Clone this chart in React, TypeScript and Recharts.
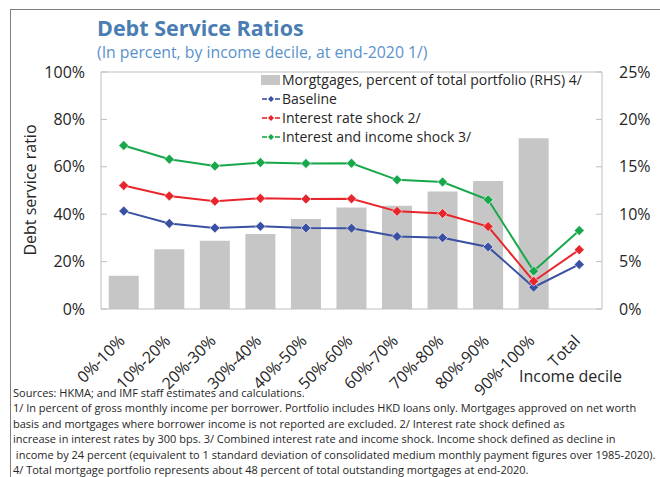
import React from "react";
import {
  Bar,
  ComposedChart,
  Legend,
  Line,
  ReferenceLine,
  XAxis,
  YAxis,
} from "recharts";

const deciles = [
  "0%-10%",
  "10%-20%",
  "20%-30%",
  "30%-40%",
  "40%-50%",
  "50%-60%",
  "60%-70%",
  "70%-80%",
  "80%-90%",
  "90%-100%",
  "Total",
];
const mortgageShare = [3.5, 6.3, 7.2, 7.9, 9.5, 10.7, 10.9, 12.4, 13.5, 18.0, null];
const baseline = [41.3, 36.1, 34.2, 34.9, 34.2, 34.1, 30.6, 30.1, 26.2, 9.2, 18.8];
const rateShock = [52.1, 47.7, 45.5, 46.7, 46.4, 46.5, 41.2, 40.3, 34.8, 11.7, 25.0];
const incomeShock = [69.0, 63.2, 60.3, 61.8, 61.4, 61.5, 54.5, 53.6, 46.1, 16.0, 33.1];
const leftTicks = [0, 20, 40, 60, 80, 100];
const rightTicks = [0, 5, 10, 15, 20, 25];

const footnotes = [
  "Sources: HKMA; and IMF staff estimates and calculations.",
  "1/ In percent of gross monthly income per borrower. Portfolio includes HKD loans only. Mortgages approved on net worth",
  "basis and mortgages where borrower income is not reported are excluded. 2/ Interest rate shock defined as",
  "increase in interest rates by 300 bps. 3/ Combined interest rate and income shock. Income shock defined as decline in",
  " income by 24 percent (equivalent to 1 standard deviation of consolidated medium monthly payment figures over 1985-2020).",
  "4/ Total mortgage portfolio represents about 48 percent of total outstanding mortgages at end-2020.",
];

const FONT = "'Open Sans', 'Noto Sans', sans-serif";
const AXIS = "#bfbfbf";
const BAR = "#c6c6c6";

const lines = [
  { key: "baseline", name: "Baseline", color: "#3a51a3" },
  { key: "rate", name: "Interest rate shock 2/", color: "#e8252b" },
  { key: "income", name: "Interest and income shock 3/", color: "#18a84b" },
];

const data = deciles.map((name, i) => ({
  name,
  share: mortgageShare[i],
  baseline: baseline[i],
  rate: rateShock[i],
  income: incomeShock[i],
}));

function diamond(color: string, r: number) {
  return (props: any) => {
    const { cx, cy, index } = props;
    if (cx == null || cy == null) return <g key={index} />;
    return (
      <polygon
        key={index}
        points={`${cx},${cy - r} ${cx + r},${cy} ${cx},${cy + r} ${cx - r},${cy}`}
        fill={color}
        stroke="#ffffff"
        strokeWidth={0.6}
      />
    );
  };
}

// Excel-style slanted labels: end of text sits below and just right of the category centre
const SlantTick = (props: any) => {
  const { x, y, payload } = props;
  const ax = x + 2;
  const ay = y + 25;
  return (
    <text
      x={ax}
      y={ay}
      transform={`rotate(-45 ${ax} ${ay})`}
      textAnchor="end"
      fontSize={16}
      fontFamily={FONT}
      fill="#262626"
    >
      {payload.value}
    </text>
  );
};

const LegendBox = () => (
  <div style={{ fontFamily: FONT, fontSize: 14, color: "#262626", lineHeight: "19px" }}>
    <div style={{ display: "flex", alignItems: "center" }}>
      <span style={{ width: 19, height: 10, background: BAR, marginRight: 2 }} />
      <span>Morgtgages, percent of total portfolio (RHS) 4/</span>
    </div>
    {lines.map((l) => (
      <div key={l.key} style={{ display: "flex", alignItems: "center" }}>
        <svg width={20} height={10} style={{ marginRight: 1 }}>
          <line x1={1} x2={6} y1={5} y2={5} stroke={l.color} strokeWidth={1.6} />
          <polygon points="10,2 13,5 10,8 7,5" fill={l.color} />
          <line x1={14} x2={19} y1={5} y2={5} stroke={l.color} strokeWidth={1.6} />
        </svg>
        <span>{l.name}</span>
      </div>
    ))}
  </div>
);

export default function App() {
  return (
    <div
      style={{
        position: "absolute",
        left: 0,
        top: 0,
        width: 660,
        height: 477,
        background: "#fff",
        fontFamily: FONT,
        overflow: "hidden",
      }}
    >
      <div
        style={{
          position: "absolute",
          left: 10,
          top: 9,
          width: 660,
          height: 480,
          borderTop: "1.5px solid #7f7f7f",
          borderLeft: "1.5px solid #7f7f7f",
        }}
      />
      <div
        style={{
          position: "absolute",
          left: 97,
          top: 13,
          fontSize: 21.5,
          fontWeight: 700,
          color: "#4a7eb3",
          whiteSpace: "nowrap",
        }}
      >
        Debt Service Ratios
      </div>
      <div
        style={{
          position: "absolute",
          left: 97,
          top: 41,
          fontSize: 15.8,
          color: "#5a92cc",
          whiteSpace: "nowrap",
        }}
      >
        (In percent, by income decile, at end-2020 1/)
      </div>
      <div
        style={{
          position: "absolute",
          left: 30,
          top: 190,
          transform: "translate(-50%, -50%) rotate(-90deg)",
          fontSize: 16,
          color: "#262626",
          whiteSpace: "nowrap",
        }}
      >
        Debt service ratio
      </div>
      <div
        style={{
          position: "absolute",
          left: 519,
          top: 365,
          fontSize: 16,
          color: "#262626",
          whiteSpace: "nowrap",
        }}
      >
        Income decile
      </div>
      <div style={{ position: "absolute", left: 0, top: 0 }}>
        <ComposedChart
          width={660}
          height={477}
          data={data}
          margin={{ top: 72, right: 0, bottom: 108, left: 0 }}
          barCategoryGap="17%"
        >
          <XAxis
            dataKey="name"
            interval={0}
            tick={<SlantTick />}
            tickLine={false}
            axisLine={{ stroke: AXIS }}
            height={60}
          />
          <YAxis
            yAxisId="left"
            width={101}
            domain={[0, 100]}
            ticks={leftTicks}
            tickFormatter={(v) => `${v}%`}
            tick={{ fontSize: 16, fill: "#262626", fontFamily: FONT }}
            tickSize={-6}
            tickMargin={22}
            tickLine={{ stroke: AXIS }}
            axisLine={{ stroke: AXIS }}
          />
          <YAxis
            yAxisId="right"
            orientation="right"
            width={58}
            domain={[0, 25]}
            ticks={rightTicks}
            tickFormatter={(v) => `${v}%`}
            tick={{ fontSize: 16, fill: "#262626", fontFamily: FONT, textAnchor: "start" }}
            tickSize={-6}
            tickMargin={23}
            tickLine={{ stroke: AXIS }}
            axisLine={{ stroke: AXIS }}
          />
          <ReferenceLine yAxisId="left" y={100} stroke={AXIS} />
          <Bar
            yAxisId="right"
            dataKey="share"
            name="Morgtgages, percent of total portfolio (RHS) 4/"
            fill={BAR}
            isAnimationActive={false}
          />
          {lines.map((l) => (
            <Line
              key={l.key}
              yAxisId="left"
              dataKey={l.key}
              name={l.name}
              stroke={l.color}
              strokeWidth={2}
              dot={diamond(l.color, 5)}
              activeDot={false}
              isAnimationActive={false}
            />
          ))}
          <Legend
            layout="vertical"
            align="center"
            verticalAlign="middle"
            content={<LegendBox />}
            wrapperStyle={{ left: 261, top: 70, width: 360, height: 80 }}
          />
        </ComposedChart>
      </div>
      <div
        style={{
          position: "absolute",
          left: 13,
          top: 385,
          fontSize: 11,
          lineHeight: "15.4px",
          color: "#262626",
          whiteSpace: "pre",
        }}
      >
        {footnotes.map((f, i) => (
          <div key={i}>{f}</div>
        ))}
      </div>
    </div>
  );
}
